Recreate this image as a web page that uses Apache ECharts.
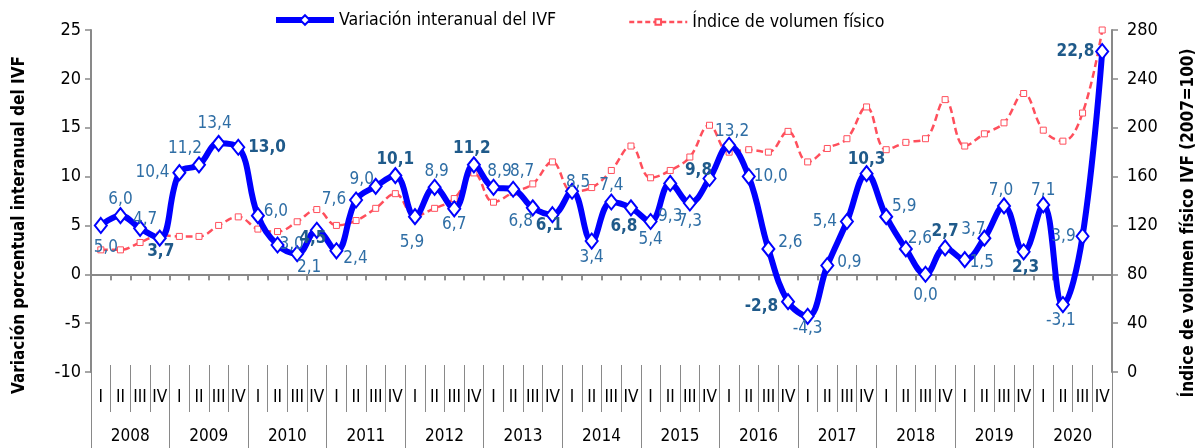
<!DOCTYPE html>
<html>
<head>
<meta charset="utf-8">
<script src="https://cdn.jsdelivr.net/npm/echarts@6/dist/echarts.min.js"></script>
<style>
html,body{margin:0;padding:0;background:#fff;}
#c{width:1204px;height:448px;}
</style>
</head>
<body>
<div id="c"></div>
<script>
// ---- data ----
const years = ['2008','2009','2010','2011','2012','2013','2014','2015','2016','2017','2018','2019','2020'];
const quarterNames = ['I','II','III','IV'];
const variacion = [
  5.0, 6.0, 4.7, 3.7,
  10.4, 11.2, 13.4, 13.0,
  6.0, 3.0, 2.1, 4.5,
  2.4, 7.6, 9.0, 10.1,
  5.9, 8.9, 6.7, 11.2,
  8.9, 8.7, 6.8, 6.1,
  8.5, 3.4, 7.4, 6.8,
  5.4, 9.3, 7.3, 9.8,
  13.2, 10.0, 2.6, -2.8,
  -4.3, 0.9, 5.4, 10.3,
  5.9, 2.6, 0.0, 2.7,
  1.5, 3.7, 7.0, 2.3,
  7.1, -3.1, 3.9, 22.8
];
const indice = [
  100, 100, 106, 112,
  111, 111, 120, 127,
  117, 115, 123, 133,
  120, 124, 134, 146,
  128, 134, 142, 163,
  139, 147, 154, 172,
  148, 151, 165, 185,
  159, 165, 176, 202,
  180, 182, 180, 197,
  172, 183, 191, 217,
  182, 188, 191, 223,
  185, 195, 204, 228,
  198, 189, 212, 280
];
const leftTicks = {min: -10, max: 25, interval: 5};
const rightTicks = {min: 0, max: 280, interval: 40};
const boldLabels = [3, 7, 11, 15, 19, 23, 27, 31, 35, 39, 43, 47, 51];
const seriesNames = ['Variación interanual del IVF', 'Índice de volumen físico'];

// ---- label placement (style only): [position, dx, dy] ----
const labelPlacement = [
  ['bottom',5,6], ['top',0,0], ['top',5,7], ['bottom',1,-3],
  ['left',0,0], ['top',-14,0], ['top',-4,-4], ['right',0,0],
  ['right',-4,-4], ['right',-8,0], ['bottom',12,-2], ['bottom',-4,-8],
  ['right',-3,8], ['left',0,0], ['top',-14,9], ['top',0,0],
  ['bottom',-3,10], ['top',2,0], ['bottom',0,0], ['top',-2,0],
  ['top',6,0], ['top',9,-2], ['bottom',-12,-2], ['bottom',-3,-5],
  ['top',6,7], ['bottom',0,0], ['top',0,0], ['bottom',-7,3],
  ['bottom',0,2], ['bottom',0,17], ['bottom',0,3], ['top',-11,8],
  ['top',3,2], ['right',-5,0], ['right',0,-6], ['left',0,5],
  ['bottom',0,-4], ['right',0,-3], ['left',0,0], ['top',0,2],
  ['right',-4,-10], ['right',-8,-10], ['bottom',0,5], ['top',0,0],
  ['right',-5,3], ['top',-11,8], ['top',-3,1], ['bottom',2,0],
  ['top',0,2], ['bottom',-2,0], ['left',3,0], ['left',2,0]
];

const FONT = "'Liberation Sans Narrow', 'DejaVu Sans Condensed', 'Liberation Sans', sans-serif";
const quarters = [];
years.forEach(y => quarterNames.forEach(q => quarters.push(q)));
const catIdx = quarters.map((q, i) => i);

const fmt = v => v.toFixed(1).replace('.', ',');

const blueData = variacion.map((v, i) => {
  const bold = boldLabels.indexOf(i) >= 0;
  const pos = labelPlacement[i][0];
  return {
    value: v,
    label: {
      position: pos,
      distance: (pos === 'top' || pos === 'bottom') ? -1 : 3,
      fontWeight: bold ? 'bold' : 'normal',
      color: bold ? '#1F5A8A' : '#2F6EA5'
    }
  };
});

const chart = echarts.init(document.getElementById('c'), null, {renderer: 'canvas'});
const axisGrey = '#898989';
const BLUE = '#0000FF';
const RED = '#FF4F5C';

chart.setOption({
  animation: false,
  textStyle: {fontFamily: FONT},
  grid: {left: 91, right: 92, top: 30, bottom: 76, containLabel: false},
  legend: [
    {
      top: 6,
      left: 268,
      itemWidth: 58,
      itemHeight: 12,
      itemGap: 6,
      textStyle: {fontFamily: FONT, fontSize: 17.6, color: '#000'},
      data: [{name: seriesNames[0], lineStyle: {width: 6, color: BLUE}}]
    },
    {
      top: 8,
      left: 623,
      itemWidth: 58,
      itemHeight: 7,
      textStyle: {fontFamily: FONT, fontSize: 17.6, color: '#000'},
      data: [{name: seriesNames[1], lineStyle: {width: 2.5, color: RED, type: [5, 3]}}]
    }
  ],
  xAxis: [
    {
      type: 'category', data: catIdx, boundaryGap: true,
      axisLine: {show: true, onZero: true, onZeroAxisIndex: 0, lineStyle: {color: axisGrey, width: 2}},
      axisTick: {show: true, interval: 0, length: 6, lineStyle: {color: axisGrey, width: 1.5}},
      axisLabel: {show: false}, splitLine: {show: false}
    },
    {
      type: 'category', data: quarters, boundaryGap: true, position: 'bottom', offset: -7,
      axisLine: {show: false, onZero: false},
      axisTick: {show: true, interval: 0, length: 47, lineStyle: {color: axisGrey, width: 1}},
      axisLabel: {show: true, interval: 0, margin: 24, fontSize: 17, color: '#000', fontFamily: FONT},
      splitLine: {show: false}
    },
    {
      type: 'category', data: years, boundaryGap: true, position: 'bottom', offset: -7,
      axisLine: {show: false, onZero: false},
      axisTick: {show: true, interval: 0, length: 83, lineStyle: {color: axisGrey, width: 1}},
      axisLabel: {show: true, interval: 0, margin: 63, fontSize: 17, color: '#000', fontFamily: FONT},
      splitLine: {show: false}
    },
    {
      type: 'category', data: catIdx, boundaryGap: true,
      axisLine: {show: false, onZero: true, onZeroAxisIndex: 0},
      axisTick: {show: true, inside: true, interval: 0, length: 6, lineStyle: {color: axisGrey, width: 1.5}},
      axisLabel: {show: false}, splitLine: {show: false}
    }
  ],
  yAxis: [
    {
      type: 'value', position: 'left',
      min: leftTicks.min, max: leftTicks.max, interval: leftTicks.interval,
      axisLine: {show: true, onZero: false, lineStyle: {color: axisGrey, width: 2}},
      axisTick: {show: true, length: 6, lineStyle: {color: axisGrey, width: 1.5}},
      axisLabel: {fontSize: 18, color: '#000', margin: 10, fontFamily: FONT},
      splitLine: {show: false}
    },
    {
      type: 'value', position: 'right',
      min: rightTicks.min, max: rightTicks.max, interval: rightTicks.interval,
      axisLine: {show: true, onZero: false, lineStyle: {color: axisGrey, width: 2}},
      axisTick: {show: true, length: 6, lineStyle: {color: axisGrey, width: 1.5}},
      axisLabel: {fontSize: 18, color: '#000', margin: 15, fontFamily: FONT},
      splitLine: {show: false}
    }
  ],
  graphic: [
    {
      type: 'text', x: 20, y: 225, rotation: Math.PI / 2,
      style: {
        text: 'Variación porcentual interanual del IVF',
        font: 'bold 17px ' + FONT, fill: '#000',
        align: 'center', verticalAlign: 'middle'
      }
    },
    {
      type: 'text', x: 1189, y: 223, rotation: Math.PI / 2,
      style: {
        text: 'Índice de volumen físico IVF (2007=100)',
        font: 'bold 17px ' + FONT, fill: '#000',
        align: 'center', verticalAlign: 'middle'
      }
    }
  ],
  series: [
    {
      name: seriesNames[1],
      type: 'line', xAxisIndex: 0, yAxisIndex: 1,
      data: indice,
      smooth: 0.4,
      showAllSymbol: true,
      symbol: 'rect', symbolSize: 6,
      itemStyle: {color: '#FFFFFF', borderColor: RED, borderWidth: 1},
      lineStyle: {color: RED, width: 2.5, type: [7, 4]},
      z: 2
    },
    {
      name: seriesNames[0],
      type: 'line', xAxisIndex: 0, yAxisIndex: 0,
      data: blueData,
      smooth: 0.4,
      showAllSymbol: true,
      symbol: 'diamond', symbolSize: [12, 15],
      itemStyle: {color: '#FFFFFF', borderColor: BLUE, borderWidth: 2},
      lineStyle: {color: BLUE, width: 6},
      label: {
        show: true, fontSize: 17, fontFamily: FONT,
        formatter: p => fmt(p.value)
      },
      labelLayout: p => {
        const lp = labelPlacement[p.dataIndex];
        return {dx: lp[1], dy: lp[2], hideOverlap: false};
      },
      z: 3
    }
  ]
});
</script>
</body>
</html>
